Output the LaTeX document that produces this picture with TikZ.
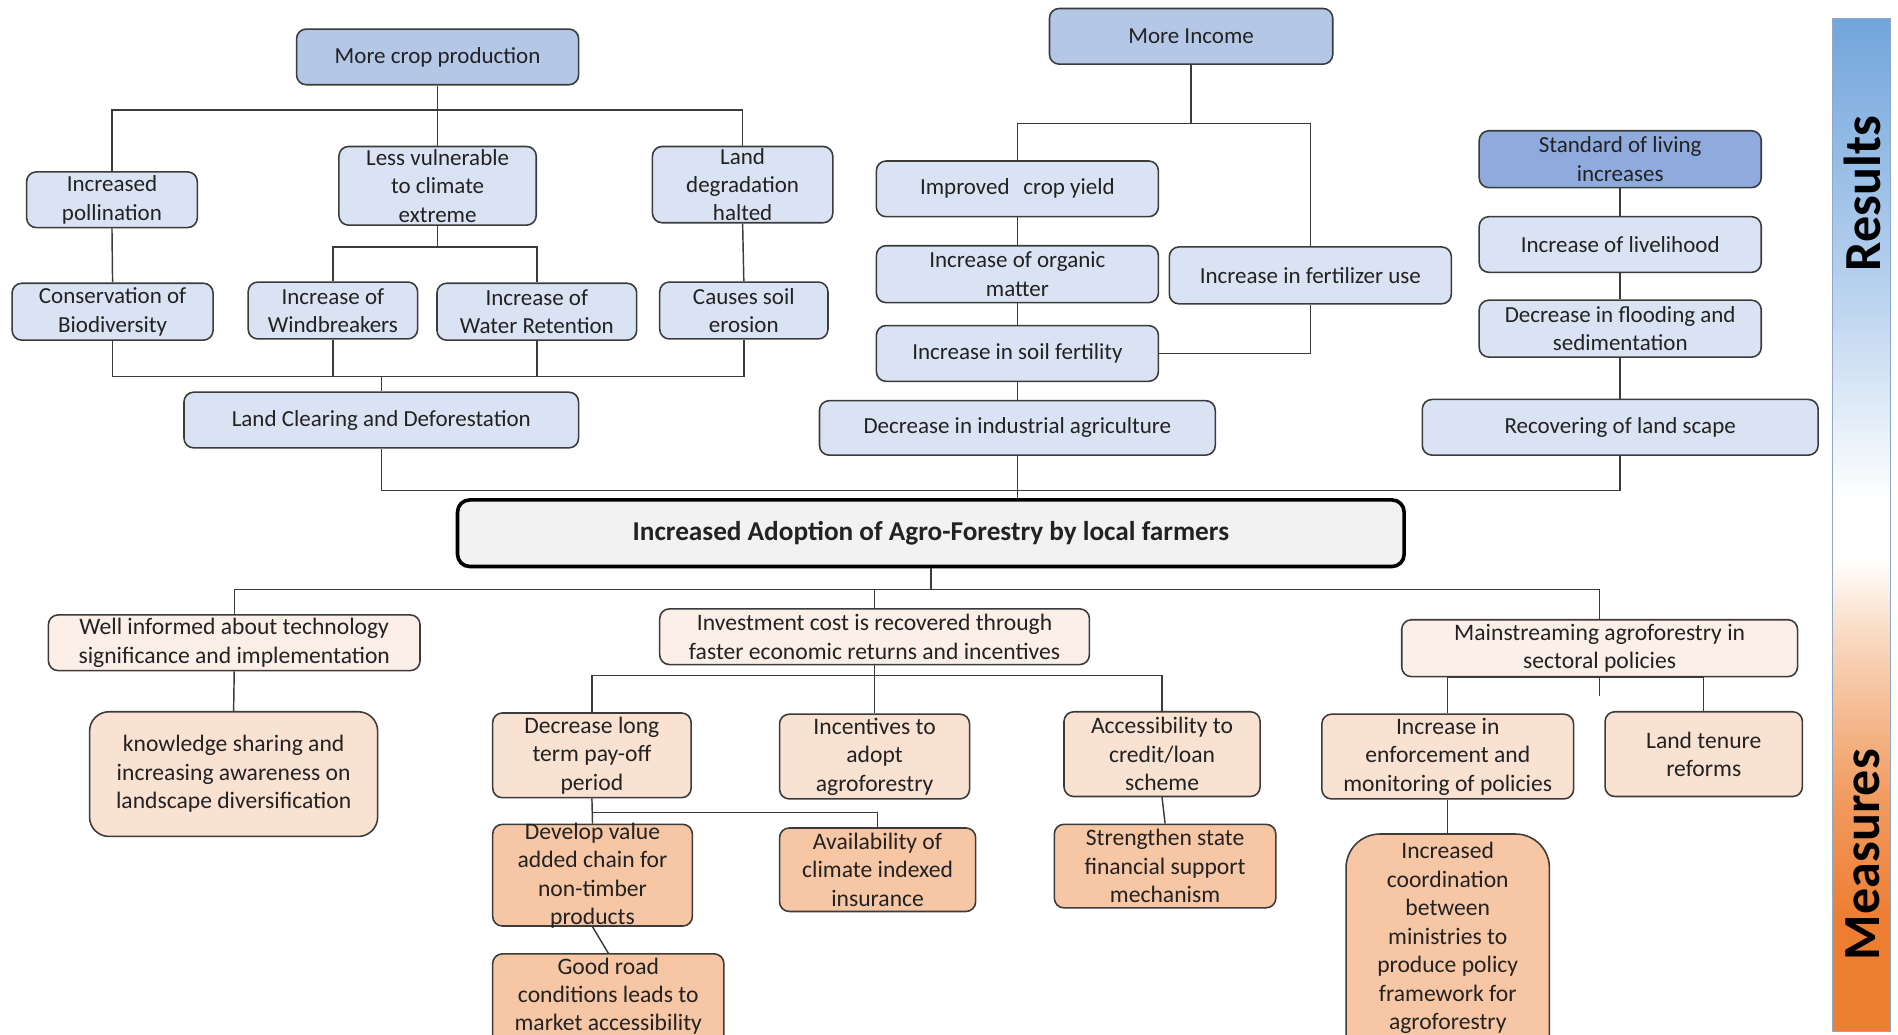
\documentclass[tikz,border=0pt]{standalone}
\usepackage{fontspec}
\setmainfont{Carlito}
\usetikzlibrary{calc}

% box fills
\definecolor{rlight}{HTML}{DAE3F3}
\definecolor{rmid}{HTML}{B4C7E7}
\definecolor{rdark}{HTML}{8FAADC}
\definecolor{mpale}{HTML}{FCEFE7}
\definecolor{mlight}{HTML}{FAE2D3}
\definecolor{mdark}{HTML}{F7C6A4}
\definecolor{mainfill}{HTML}{F2F2F2}
\definecolor{edge}{HTML}{3B3B3B}
\definecolor{ink}{HTML}{222222}
% side bar gradient
\definecolor{barA}{HTML}{ED7D31}
\definecolor{barB}{HTML}{F19A5E}
\definecolor{barC}{HTML}{F8D3B8}
\definecolor{barD}{HTML}{BCD4EF}
\definecolor{barE}{HTML}{72A5DC}
\definecolor{barline}{HTML}{8EA9C8}

\pgfdeclareverticalshading{barshade}{100bp}{%
  color(0bp)=(barA); color(25bp)=(barA); color(30.5bp)=(barA);
  color(36.4bp)=(barB); color(43.8bp)=(barC); color(48.4bp)=(white);
  color(51.2bp)=(white); color(61bp)=(barD); color(75bp)=(barE);
  color(100bp)=(barE)}

\newcommand\boxfont{\fontsize{19}{23.5}\selectfont}
\newcommand\lowfont{\fontsize{19.5}{23.5}\selectfont}

\tikzset{
  box/.style={draw=edge, line width=1.3pt, rounded corners=8pt, align=center,
    inner sep=0pt, text=ink, font=\boxfont},
  sz/.style 2 args={minimum width=#1pt, minimum height=#2pt},
  rbox/.style={box, fill=rlight},
  rtop/.style={box, fill=rmid},
  rstd/.style={box, fill=rdark},
  mpbox/.style={box, fill=mpale, font=\lowfont},
  mlbox/.style={box, fill=mlight, font=\lowfont},
  mdbox/.style={box, fill=mdark, font=\lowfont},
  txt/.style={align=center, inner sep=0pt, text=ink, font=\lowfont},
  wire/.style={draw=edge, line width=1.2pt},
  bartext/.style={rotate=90, font=\fontsize{43}{43}\selectfont\bfseries, text=black}
}

\begin{document}
\begin{tikzpicture}[x=1pt, y=-1pt]
\useasboundingbox (0,0) rectangle (1568,855);
\clip (0,0) rectangle (1568,855);

% ---------- results: crop production branch ----------
\node[rtop, sz={233}{46}] (crop) at (361.5,47) {More crop production};
\node[rbox, sz={141}{46}] (poll) at (92.5,165) {Increased\\pollination};
\node[rbox, sz={163}{65}] (less) at (361.5,153.5) {Less vulnerable\\to climate\\extreme};
\node[rbox, sz={149}{63}] (ldeg) at (613.5,152.5) {Land\\degradation\\halted};
\node[rbox, sz={166}{47}] (cons) at (93,257.5) {Conservation of\\Biodiversity};
\node[rbox, sz={140}{47}] (wind) at (275,256.5) {Increase of\\Windbreakers};
\node[rbox, sz={165}{47}] (water) at (443.5,257.5) {Increase of\\Water Retention};
\node[rbox, sz={139}{47}] (soil) at (614.5,256.5) {Causes soil\\erosion};
\node[rbox, sz={326}{46}] (clear) at (315,347) {Land Clearing and Deforestation};

% ---------- results: income branch ----------
\node[rtop, sz={234}{46}] (income) at (984,30) {More Income};
\node[rbox, sz={233}{46}] (yield) at (840.5,156) {Improved\hspace{0.6em}crop yield};
\node[rbox, sz={233}{47}] (organic) at (840.5,226.5) {Increase of organic\\matter};
\node[rbox, sz={233}{47}] (fert) at (1082.5,227.5) {Increase in fertilizer use};
\node[rbox, sz={233}{46}] (sfert) at (840.5,292) {Increase in soil fertility};
\node[rbox, sz={327}{45}] (indus) at (840.5,353.5) {Decrease in industrial agriculture};

% ---------- results: living standard branch ----------
\node[rstd, sz={233}{47}] (std) at (1338.5,131.5) {Standard of living\\increases};
\node[rbox, sz={233}{46}] (live) at (1338.5,202) {Increase of livelihood};
\node[rbox, sz={233}{47}] (flood) at (1338.5,271.5) {Decrease in flooding and\\sedimentation};
\node[rbox, sz={327}{46}] (recov) at (1338.5,353) {Recovering of land scape};

% ---------- central goal ----------
\node[draw=black, line width=3pt, rounded corners=10pt, fill=mainfill, inner sep=0pt,
      sz={782}{55}, text=ink, font=\fontsize{22.5}{26}\selectfont\bfseries]
      (goal) at (769,440.5) {Increased Adoption of Agro-Forestry by local farmers};

% ---------- measures ----------
\node[mpbox, sz={307}{46}] (info) at (193.5,531) {Well informed about technology\\significance and implementation};
\node[mlbox, sz={238}{103}, rounded corners=16pt] (know) at (193,639.5)
  {knowledge sharing and\\increasing awareness on\\landscape diversification};
\node[mpbox, sz={355}{46}] (invest) at (722.5,526) {Investment cost is recovered through\\faster economic returns and incentives};
\node[mlbox, sz={164}{70}] (payoff) at (489,624) {Decrease long\\term pay-off\\period};
\node[mlbox, sz={157}{70}] (incent) at (722.5,625) {Incentives to\\adopt\\agroforestry};
\node[mlbox, sz={162}{70}] (credit) at (960,623) {Accessibility to\\credit/loan\\scheme};
\node[mdbox, sz={165}{84}] (chain) at (489.5,723) {};
\node[txt] (chain-t) at (489.5,723.5) {Develop value\\added chain for\\non-timber\\products};
\node[mdbox, sz={191}{100}] (road) at (502.5,838) {};
\node[txt] (road-t) at (502.5,823) {Good road\\conditions leads to\\market accessibility};
\node[mdbox, sz={162}{69}] (insur) at (725,718.5) {Availability of\\climate indexed\\insurance};
\node[mdbox, sz={183}{69}] (state) at (962.5,715.5) {Strengthen state\\financial support\\mechanism};
\node[mpbox, sz={327}{47}] (policy) at (1321.5,535.5) {Mainstreaming agroforestry in\\sectoral policies};
\node[mlbox, sz={208}{70}] (enforce) at (1196,625) {Increase in\\enforcement and\\monitoring of policies};
\node[mlbox, sz={163}{70}] (tenure) at (1407.5,623) {Land tenure\\reforms};
\node[mdbox, sz={168}{200}, rounded corners=28pt] (coord) at (1196,789) {};
\node[txt] (coord-t) at (1196,775) {Increased\\coordination\\between\\ministries to\\produce policy\\framework for\\agroforestry};

% ---------- side bar ----------
\shade[shading=barshade] (1514,15) rectangle (1562,852);
\draw[barline, line width=1pt] (1514,15) rectangle (1562,852);
\node[bartext] (res) at (1539,160) {Results};
\node[bartext] (meas) at (1539,706) {Measures};

% ---------- connectors: crop production ----------
\coordinate (busA) at (361.5,91);
\coordinate (busB) at (361.5,204);
\coordinate (busC) at (315,311);
\draw[wire] (crop.south) -- (less.north);
\draw[wire] (poll.north) |- (busA) -| (ldeg.north);
\draw[wire] (less.south) -- (busB);
\draw[wire] (wind.north) |- (busB) -| (water.north);
\draw[wire] (poll.south) -- (cons.north);
\draw[wire] (ldeg.south) -- (soil.north);
\draw[wire] (cons.south) |- (busC) -| (soil.south);
\draw[wire] (wind.south) -- (wind.south |- busC);
\draw[wire] (water.south) -- (water.south |- busC);
\draw[wire] (busC) -- (clear.north);

% ---------- connectors: income ----------
\coordinate (busE) at (984,102);
\draw[wire] (income.south) -- (busE);
\draw[wire] (yield.north) |- (busE) -| (fert.north);
\draw[wire] (yield.south) -- (organic.north);
\draw[wire] (organic.south) -- (sfert.north);
\draw[wire] (sfert.south) -- (indus.north);
\draw[wire] (fert.south) |- (sfert.east);

% ---------- connectors: living standard ----------
\draw[wire] (std.south) -- (live.north);
\draw[wire] (live.south) -- (flood.north);
\draw[wire] (flood.south) -- (recov.north);

% ---------- connectors into the goal ----------
\coordinate (busD) at (841,405);
\draw[wire] (clear.south) |- (busD) -| (recov.south);
\draw[wire] (indus.south) -- (indus.south |- goal.north);

% ---------- connectors: measures ----------
\coordinate (busF) at (769,487);
\draw[wire] (goal.south) -- (busF);
\draw[wire] (info.north) |- (busF) -| (policy.north);
\draw[wire] (invest.north) -- (invest.north |- busF);
\draw[wire] (info.south) -- (know.north);

\coordinate (busG) at (722.5,558);
\draw[wire] (invest.south) -- (incent.north);
\draw[wire] (payoff.north) |- (busG) -| (credit.north);

\coordinate (busH) at (489,671);
\draw[wire] (payoff.south) -- (chain.north);
\draw[wire] (busH) -| (insur.north);
\draw[wire] (chain.south) -- (road.north);
\draw[wire] (credit.south) -- (state.north);

\draw[wire] (enforce.north) |- (policy.south) -| (tenure.north);
\draw[wire] (policy.south) -- ++(0,15);
\draw[wire] (enforce.south) -- (coord.north);
\end{tikzpicture}
\end{document}
